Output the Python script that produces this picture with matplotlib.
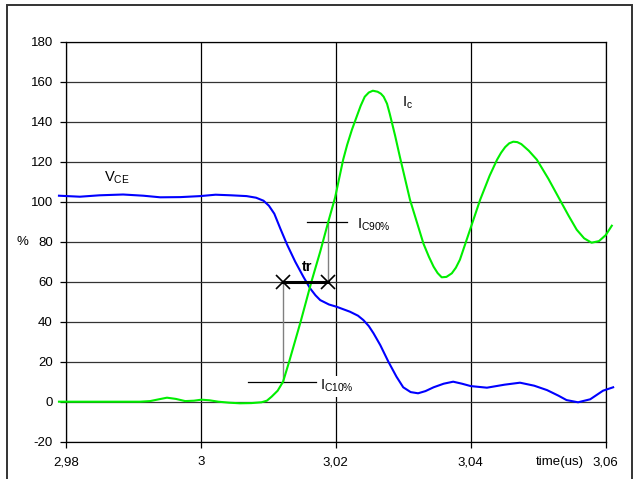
import matplotlib
matplotlib.use('Agg')  # no display in the sandbox

import matplotlib.pyplot as plt
from matplotlib.patches import Rectangle

plt.rcParams['font.family'] = ['Liberation Sans', 'DejaVu Sans']
plt.rcParams['axes.unicode_minus'] = False

# collector current Ic (%)
time_ic = [2.979, 2.985, 2.991, 2.9925, 2.9938, 2.995, 2.9963, 2.9977, 2.9990,
           3.0001, 3.0013, 3.0026, 3.0042, 3.0058, 3.0075, 3.0090, 3.0098,
           3.0105, 3.0114, 3.0122, 3.0131, 3.0148, 3.0164, 3.0177, 3.0189,
           3.0199, 3.0211, 3.0217, 3.0224, 3.0231, 3.0237, 3.0243, 3.0249,
           3.0255, 3.0262, 3.0267, 3.0271, 3.0276, 3.0280, 3.0288, 3.0295,
           3.0310, 3.0330, 3.0338, 3.0345, 3.0351, 3.0357, 3.0364, 3.0372,
           3.0378, 3.0384, 3.0399, 3.0414, 3.0428, 3.0439, 3.0445, 3.0451,
           3.0457, 3.0463, 3.0469, 3.0475, 3.0486, 3.0498, 3.0515, 3.0532,
           3.0545, 3.0557, 3.0568, 3.0579, 3.0590, 3.0600, 3.0609]
ic_pct = [0, 0, 0, 0.3, 1.2, 2.0, 1.4, 0.3, 0.5,
          1.0, 0.7, 0, -0.5, -0.8, -0.7, -0.3, 0.5,
          2.5, 5.5, 10, 20, 40, 60, 75, 90,
          102, 121, 128.5, 136, 142.5, 148, 152.5, 154.6,
          155.5, 155, 154, 152.5, 149, 144, 133, 122.5,
          101, 79, 72.5, 67.5, 64.3, 62.2, 62.4, 64.2,
          67, 71, 86, 101, 113, 121, 124.5, 127.3,
          129.2, 130, 129.8, 128.8, 125.5, 121, 111.5, 101,
          93, 86, 81.7, 79.5, 80.3, 83.3, 88]

# collector-emitter voltage Vce (%)
time_vce = [2.979, 2.9821, 2.985, 2.9885, 2.9915, 2.994, 2.997, 2.9999, 3.0022,
            3.0045, 3.0068, 3.0082, 3.0093, 3.0101, 3.0109, 3.0118, 3.0128,
            3.0140, 3.0152, 3.0162, 3.0170, 3.0177, 3.0190, 3.0201, 3.0221,
            3.0233, 3.0241, 3.0249, 3.0256, 3.0266, 3.0278, 3.0290, 3.0300,
            3.0311, 3.0322, 3.0333, 3.0345, 3.0360, 3.0374, 3.0387, 3.0400,
            3.0424, 3.0450, 3.0473, 3.0494, 3.0513, 3.0530, 3.0542, 3.0559,
            3.0577, 3.0596, 3.0611]
vce_pct = [103, 102.5, 103.2, 103.6, 103.0, 102.2, 102.3, 102.8, 103.5,
           103.2, 102.8, 102, 100.5, 98, 94, 86.5, 78.5,
           70, 62.5, 56.7, 53.2, 50.8, 48.6, 47.5, 45,
           43, 40.8, 37.8, 34.2, 28.3, 20, 12.5, 7.2,
           4.8, 4.2, 5.3, 7.2, 9.0, 10, 9.0, 7.8,
           7, 8.5, 9.5, 8.0, 5.8, 3, 0.8, -0.3,
           1.2, 5.5, 7.2]

x_ticks = [2.98, 3.00, 3.02, 3.04, 3.06]
x_tick_labels = ['2,98', '3', '3,02', '3,04', '3,06']
y_ticks = list(range(-20, 181, 20))

# rise time markers: Ic at 10 % and 90 %
t10, t90 = 3.0122, 3.0189
tr_level = 60

fig = plt.figure(figsize=(6.35, 4.79), dpi=100)
ax = fig.add_axes([0.1035, 0.0779, 0.8504, 0.835])

ax.set_xlim(2.98, 3.06)
ax.set_ylim(-20, 180)
ax.set_xticks(x_ticks)
ax.set_xticklabels(x_tick_labels)
ax.set_yticks(y_ticks)

ax.set_axisbelow(True)
ax.yaxis.grid(True, color='#333333', lw=0.9)
ax.xaxis.grid(True, color='black', lw=0.9)
for s in ax.spines.values():
    s.set_color('black')
    s.set_linewidth(0.9)
ax.tick_params(direction='out', length=4, width=0.9, labelsize=9.5, colors='black')
ax.tick_params(axis='y', pad=5.3)
ax.tick_params(axis='x', pad=6.5)

ax.plot(time_vce, vce_pct, color='#0000ff', lw=1.5, clip_on=False, zorder=3)
ax.plot(time_ic, ic_pct, color='#00ee00', lw=1.5, clip_on=False, zorder=3)

# 10 % / 90 % construction
ax.plot([t10, t10], [10, tr_level], color='gray', lw=1, zorder=2)
ax.plot([t90, t90], [90, tr_level], color='gray', lw=1, zorder=2)
ax.plot([3.0070, 3.0171], [10, 10], color='black', lw=0.9, zorder=2)
ax.plot([3.0158, 3.0217], [90, 90], color='black', lw=0.9, zorder=2)
ax.plot([t10, t90], [tr_level, tr_level], color='black', lw=2.2,
        marker='x', ms=9.5, mew=1.2, zorder=4)
ax.text(3.0157, 67.5, 'tr', fontsize=10.5, fontweight='bold', ha='center', va='center')

ax.text(2.9856, 109.9, r'$\mathregular{V_{CE}}$', fontsize=10.5, va='baseline')
ax.text(3.0298, 147.8, r'$\mathregular{I_{c}}$', fontsize=10.5, va='baseline')
ax.text(3.0232, 86.7, r'$\mathregular{I_{C90\%}}$', fontsize=10.5, va='baseline',
        bbox=dict(fc='white', ec='none', pad=1.5), zorder=5)
ax.text(3.0177, 5.8, r'$\mathregular{I_{C10\%}}$', fontsize=10.5, va='baseline',
        bbox=dict(fc='white', ec='none', pad=1.5), zorder=5)

ax.annotate('%', xy=(0, 80), xycoords=('axes fraction', 'data'),
            xytext=(-31.5, 0), textcoords='offset points',
            ha='center', va='center', fontsize=9.5)
ax.annotate('time(us)', xy=(3.0568, 0), xycoords=('data', 'axes fraction'),
            xytext=(0, -10.5), textcoords='offset points',
            ha='right', va='top', fontsize=9.5)

# outer chart frame
fig.add_artist(Rectangle((0.011, -0.1), 0.984, 1.0896, fill=False,
                         ec='#333333', lw=1.4, transform=fig.transFigure,
                         clip_on=False))

fig.savefig('out.png', dpi=100)
plt.close(fig)
